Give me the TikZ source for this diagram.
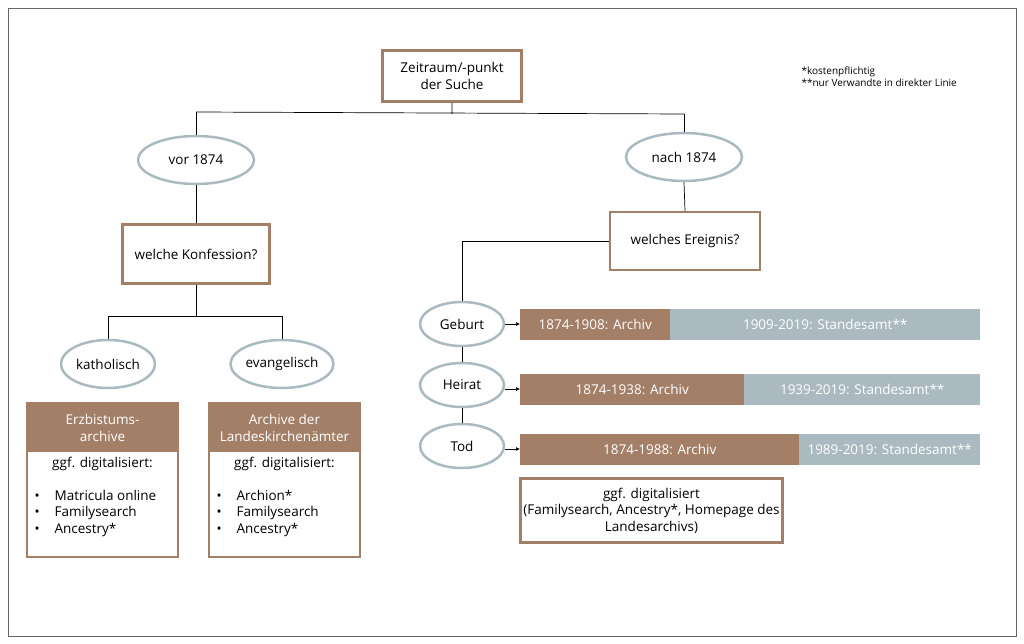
\documentclass[tikz,border=0pt]{standalone}
\usepackage{fontspec}
\setmainfont{Open Sans}
\usetikzlibrary{shapes.geometric,arrows.meta}
\definecolor{br}{HTML}{A37F68}
\definecolor{gr}{HTML}{AABAC0}
\begin{document}
\begin{tikzpicture}[x=1pt,y=-1pt,font=\fontsize{13.5}{16.5}\selectfont,
 box/.style={draw=br,line width=2.5pt,fill=white,align=center,inner sep=0pt},
 ell/.style={ellipse,draw=gr,line width=2.5pt,fill=white,inner sep=0pt},
 ln/.style={draw=black,line width=0.7pt},
 bar/.style={inner sep=0pt,text=white,font=\fontsize{13.5}{16}\selectfont}]
\useasboundingbox (0,0) rectangle (1024,644);
\draw[black!60,line width=0.6pt] (8,8) rectangle (1016,636);
\node[box,minimum width=139,minimum height=51] (top) at (452,76) {Zeitraum/-punkt\\der Suche};
\node[ell,minimum width=116,minimum height=48] (vor) at (196,160) {vor 1874};
\node[ell,minimum width=116,minimum height=48] (nach) at (684,157) {nach 1874};
\node[box,minimum width=147,minimum height=59] (konf) at (196,254) {welche Konfession?};
\node[ell,minimum width=94,minimum height=48] (kath) at (108,364) {katholisch};
\node[ell,minimum width=94,minimum height=48] (evan) at (282,364) {evangelisch};
\coordinate (t1) at (452,114);
\draw[ln] (top.south) -- (t1) (196,112) -- (684,114);
\draw[ln] (196,112) -- (vor.north) (684,114) -- (nach.north);
\draw[ln] (vor.south) -- (konf.north);
\draw[ln] (konf.south) -- (196,316) (108,316) -- (282,316) (108,316) -- (kath.north) (282,316) -- (evan.north);
% archive boxes
\foreach \x/\n/\h/\a in {27/ea/{Erzbistums-\\archive}/{Matricula online},209/la/{Archive der\\Landeskirchenämter}/{Archion*}}{
 \draw[br,line width=2.5pt] (\x,403) rectangle (\x+151,557);
 \fill[br] (\x,403) rectangle (\x+151,452);
 \node[text=white,align=center] (\n h) at (\x+75.5,428) {\h};
 \node (\n d) at (\x+75.5,464) {ggf. digitalisiert:};
 \node[anchor=west,align=left] (\n l) at (\x+4,513) {•\hspace{15pt}\a\\•\hspace{15pt}Familysearch\\•\hspace{15pt}Ancestry*};
}
\node[box,minimum width=150,minimum height=58] (ereig) at (685,241) {welches Ereignis?};
\draw[ln] (nach.south) -- (ereig.north);
\node[ell,minimum width=84,minimum height=44] (geb) at (462,324) {Geburt};
\node[ell,minimum width=84,minimum height=44] (hei) at (462,385) {Heirat};
\node[ell,minimum width=84,minimum height=44] (tod) at (462,446) {Tod};
\draw[ln] (ereig.west) -- (462,241) -- (geb.north);
\draw[ln] (geb.south) -- (hei.north) (hei.south) -- (tod.north);
\foreach \e/\y/\s/\a/\b in {geb/324/670/{1874-1908: Archiv}/{1909-2019: Standesamt**},hei/389/744/{1874-1938: Archiv}/{1939-2019: Standesamt**},tod/449/799/{1874-1988: Archiv}/{1989-2019: Standesamt**}}{
 \node[bar,fill=br,minimum width=\s-520,minimum height=31,anchor=west] (\e a) at (520,\y) {\a};
 \node[bar,fill=gr,minimum width=980-\s,minimum height=31,anchor=west] (\e b) at (\s,\y) {\b};
 \draw[ln,-{Latex[length=4pt,width=4pt]}] (\e a.west -| \e.east) -- (\e a.west);
}
\node[box,minimum width=262,minimum height=64] (dig) at (651.5,510.5) {ggf. digitalisiert\\(Familysearch, Ancestry*, Homepage des\\Landesarchivs)};
\node[anchor=north west,align=left,font=\fontsize{10}{12}\selectfont] (note) at (798,63) {*kostenpflichtig\\**nur Verwandte in direkter Linie};
\end{tikzpicture}
\end{document}
